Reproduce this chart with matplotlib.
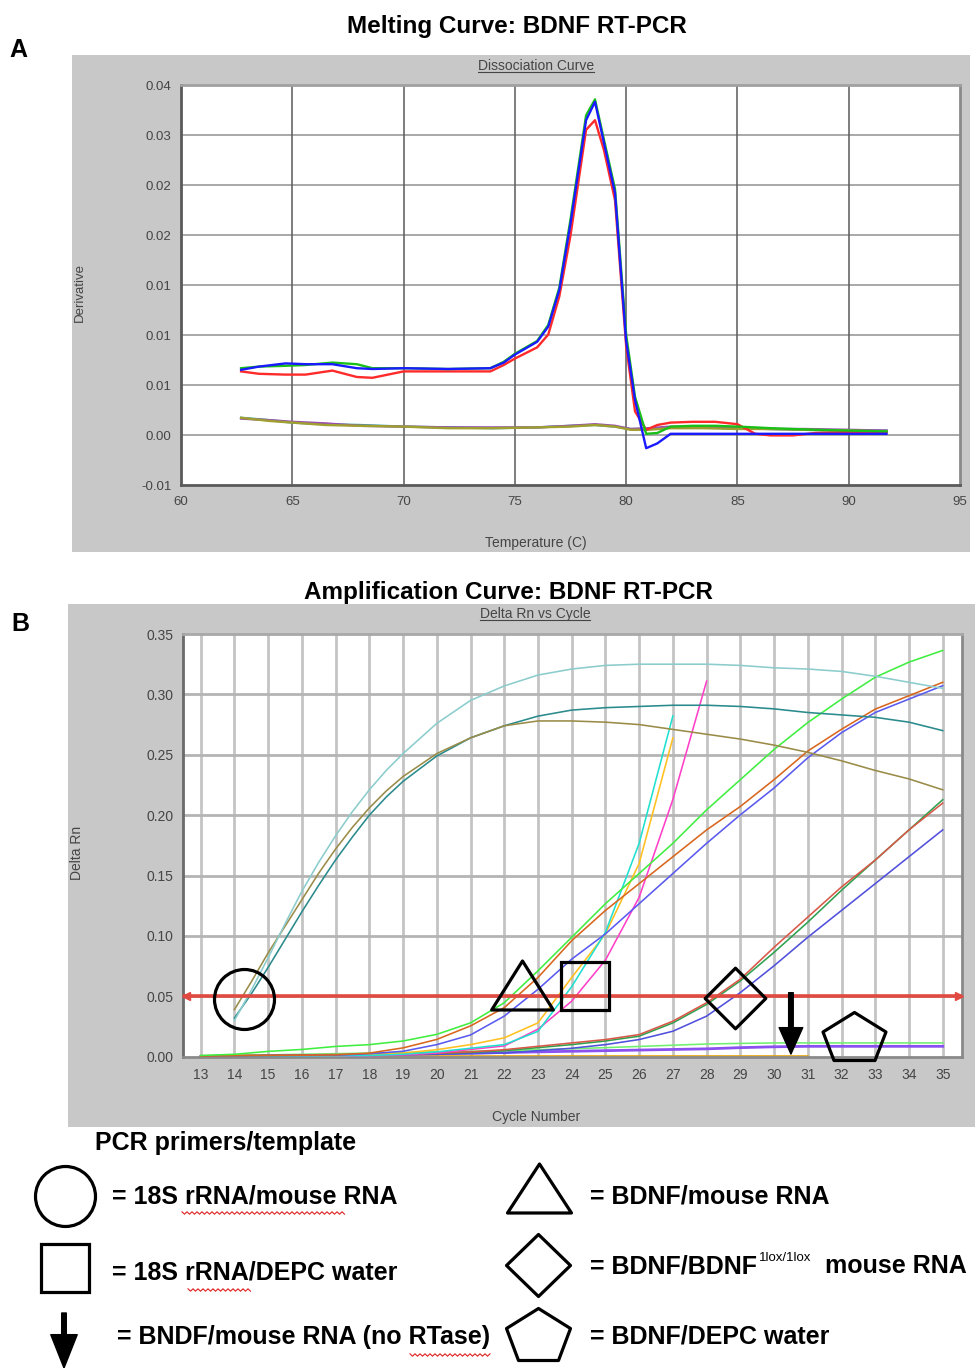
import numpy as np
import matplotlib
matplotlib.use('Agg')
import matplotlib.pyplot as plt
from matplotlib.path import Path
from matplotlib.patches import Rectangle

plt.rcParams['font.family'] = ['Liberation Sans', 'DejaVu Sans']

W, H = 977, 1368

# ---------------- Panel A : dissociation (melting) curve ----------------
temp_main = [62.7, 63.5, 64.7, 65.6, 66.8, 67.9, 68.6, 70.0, 72.0, 73.9, 74.5, 75.0,
             76.0, 76.5, 77.0, 77.5, 78.2, 78.6, 79.0, 79.5, 80.0, 80.4, 80.9, 81.4,
             82.0, 83.0, 84.0, 85.0, 85.8, 86.5, 87.5, 88.5, 90.0, 91.7]
deriv_blue = [0.0044, 0.0048, 0.0052, 0.0051, 0.0051, 0.0046, 0.0045, 0.0046, 0.0045,
              0.0046, 0.0053, 0.0063, 0.0079, 0.0098, 0.0144, 0.0227, 0.0356, 0.0379,
              0.0328, 0.0265, 0.0080, 0.0006, -0.0054, -0.0048, -0.0036, -0.0036,
              -0.0036, -0.0036, -0.0036, -0.0036, -0.0036, -0.0036, -0.0036, -0.0036]
deriv_green = [0.0046, 0.0048, 0.0049, 0.0050, 0.0053, 0.0051, 0.0046, 0.0046, 0.0045,
               0.0046, 0.0054, 0.0064, 0.0080, 0.0100, 0.0147, 0.0232, 0.0362, 0.0382,
               0.0332, 0.0270, 0.0088, 0.0010, -0.0036, -0.0035, -0.0027, -0.0026,
               -0.0026, -0.0027, -0.0028, -0.0029, -0.0030, -0.0031, -0.0032, -0.0033]
deriv_red = [0.0042, 0.0039, 0.0038, 0.0038, 0.0043, 0.0035, 0.0034, 0.0042, 0.0042,
             0.0042, 0.0050, 0.0058, 0.0072, 0.0088, 0.0136, 0.0212, 0.0344, 0.0356,
             0.0319, 0.0256, 0.0074, -0.0008, -0.0031, -0.0025, -0.0022, -0.0021,
             -0.0021, -0.0024, -0.0036, -0.0038, -0.0038, -0.0035, -0.0034, -0.0034]

temp_low = [62.7, 64.0, 65.0, 66.5, 68.0, 70.0, 72.0, 74.0, 76.0, 77.5, 78.6, 79.5,
            80.2, 81.0, 82.0, 83.5, 85.0, 86.5, 88.0, 90.0, 91.7]
deriv_teal = [-0.0016, -0.0019, -0.0022, -0.0024, -0.0025, -0.0027, -0.0028, -0.0029,
              -0.0028, -0.0026, -0.0025, -0.0027, -0.0030, -0.0030, -0.0028, -0.0028,
              -0.0029, -0.0030, -0.0031, -0.0032, -0.0032]
deriv_olive = [-0.0016, -0.0020, -0.0022, -0.0025, -0.0026, -0.0027, -0.0029, -0.0029,
               -0.0028, -0.0027, -0.0025, -0.0027, -0.0031, -0.0031, -0.0029, -0.0029,
               -0.0030, -0.0030, -0.0031, -0.0032, -0.0033]
deriv_purple = [-0.0017, -0.0019, -0.0021, -0.0023, -0.0026, -0.0027, -0.0028, -0.0028,
                -0.0028, -0.0026, -0.0024, -0.0026, -0.0030, -0.0029, -0.0027, -0.0028,
                -0.0029, -0.0030, -0.0030, -0.0031, -0.0032]

a_yticks = [-0.01, -0.00375, 0.0025, 0.00875, 0.015, 0.02125, 0.0275, 0.03375, 0.04]
a_ytick_labels = ['-0.01', '0.00', '0.01', '0.01', '0.01', '0.02', '0.02', '0.03', '0.04']
a_xticks = [60, 65, 70, 75, 80, 85, 90, 95]

# ---------------- Panel B : amplification curve ----------------
cycles = list(range(13, 36))
cyc_18s = [14, 14.5, 15, 15.5, 16, 16.5, 17, 17.5, 18, 18.5, 19, 20, 21, 22, 23, 24,
           25, 26, 27, 28, 29, 30, 31, 32, 33, 34, 35]
rn_18s_light = [0.030, 0.055, 0.082, 0.110, 0.137, 0.161, 0.183, 0.203, 0.221, 0.237,
                0.251, 0.276, 0.295, 0.307, 0.316, 0.321, 0.324, 0.325, 0.325, 0.325,
                0.324, 0.322, 0.321, 0.319, 0.315, 0.310, 0.305]
rn_18s_olive = [0.039, 0.062, 0.086, 0.108, 0.130, 0.152, 0.172, 0.190, 0.206, 0.220,
                0.232, 0.251, 0.264, 0.274, 0.278, 0.278, 0.277, 0.275, 0.271, 0.267,
                0.263, 0.258, 0.252, 0.245, 0.237, 0.230, 0.221]
rn_18s_dark = [0.032, 0.052, 0.074, 0.097, 0.120, 0.142, 0.163, 0.182, 0.200, 0.215,
               0.228, 0.249, 0.264, 0.274, 0.282, 0.287, 0.289, 0.290, 0.291, 0.291,
               0.290, 0.288, 0.285, 0.283, 0.281, 0.277, 0.270]

rn_bdnf_green = [0.001, 0.002, 0.0044, 0.006, 0.0085, 0.010, 0.013, 0.0185, 0.028, 0.0447,
                 0.0711, 0.0989, 0.1267, 0.1517, 0.1767, 0.2044, 0.2294, 0.2544, 0.2767,
                 0.2961, 0.3142, 0.3267, 0.3364]
rn_bdnf_orange = [0.0005, 0.0008, 0.001, 0.0012, 0.0015, 0.003, 0.0073, 0.0143, 0.0255,
                  0.0406, 0.0656, 0.0961, 0.1211, 0.1433, 0.1656, 0.1878, 0.2072, 0.2294,
                  0.2531, 0.2711, 0.2878, 0.2989, 0.310]
rn_bdnf_blue = [0.0005, 0.0007, 0.0009, 0.001, 0.0012, 0.0025, 0.0045, 0.010, 0.018,
                0.0336, 0.0558, 0.0808, 0.1017, 0.1267, 0.1517, 0.1767, 0.2003, 0.2225,
                0.2475, 0.2683, 0.285, 0.2961, 0.3072]

rn_water_yellow = [0.0005, 0.0005, 0.0006, 0.0008, 0.001, 0.0015, 0.003, 0.0058, 0.010,
                   0.0156, 0.028, 0.0656, 0.1017, 0.160, 0.264]
rn_water_cyan = [0.0003, 0.0004, 0.0005, 0.0006, 0.0008, 0.001, 0.002, 0.004, 0.007,
                 0.010, 0.021, 0.058, 0.103, 0.1767, 0.2822]
rn_water_magenta = [0.0003, 0.0003, 0.0004, 0.0005, 0.0006, 0.0008, 0.0015, 0.003, 0.006,
                    0.0089, 0.0228, 0.046, 0.080, 0.132, 0.213, 0.311]

rn_lox_red = [0.0008, 0.001, 0.0012, 0.0015, 0.0018, 0.002, 0.0025, 0.003, 0.004, 0.0058,
              0.0086, 0.0114, 0.0142, 0.0183, 0.0294, 0.0447, 0.0642, 0.0906, 0.1156,
              0.1406, 0.1628, 0.1878, 0.210]
rn_lox_green = [0.0007, 0.0009, 0.0011, 0.0013, 0.0016, 0.0018, 0.0022, 0.0028, 0.0036,
                0.005, 0.0075, 0.010, 0.013, 0.017, 0.028, 0.0433, 0.0628, 0.0864, 0.1114,
                0.1378, 0.1628, 0.1878, 0.2128]
rn_lox_blue = [0.0005, 0.0006, 0.0008, 0.001, 0.0012, 0.0014, 0.0017, 0.002, 0.0025, 0.003,
               0.005, 0.007, 0.010, 0.0142, 0.0211, 0.0336, 0.0531, 0.0753, 0.0989, 0.1211,
               0.1433, 0.1656, 0.1878]

rn_flat_green = [0.0005, 0.001, 0.0015, 0.002, 0.0025, 0.003, 0.0035, 0.004, 0.0045, 0.005,
                 0.0058, 0.0066, 0.0075, 0.0085, 0.0095, 0.0105, 0.011, 0.0114, 0.0114,
                 0.0114, 0.0114, 0.0114, 0.0114]
rn_flat_purple = [0.0, 0.0, 0.0005, 0.001, 0.0012, 0.0015, 0.002, 0.0025, 0.003, 0.0035,
                  0.004, 0.0045, 0.005, 0.0055, 0.006, 0.0065, 0.0075, 0.0082, 0.0086,
                  0.0086, 0.0086, 0.0086, 0.0086]
rn_flat_orange = [0.0008, 0.0008, 0.0008, 0.0008, 0.0008, 0.0008, 0.0008, 0.0008, 0.0008,
                  0.0008, 0.0008, 0.0008, 0.0008, 0.0008, 0.0008, 0.0008, 0.0008, 0.0008,
                  0.0008]

threshold = 0.05
b_yticks = [0.0, 0.05, 0.10, 0.15, 0.20, 0.25, 0.30, 0.35]

# annotation shapes placed in panel B (cycle, delta Rn)
circle_at = (14.29, 0.0476)
triangle_at = (22.52, 0.0595)
square_at = (24.39, 0.0585)
diamond_at = (28.84, 0.0486)
pentagon_at = (32.38, 0.017)
arrow_at = (30.5, 0.053, 0.0022)

legend_labels = ['= 18S rRNA/mouse RNA', '= 18S rRNA/DEPC water',
                 '= BNDF/mouse RNA (no RTase)', '= BDNF/mouse RNA',
                 '= BDNF/BDNF', '= BDNF/DEPC water']


def shape_marker(verts):
    v = np.array(verts, dtype=float)
    return Path(np.vstack([v, v[:1]]), closed=True)


def px_to_pt(px):
    return px * 72.0 / 100.0


TRI = shape_marker([(-30.85, -24.5), (30.85, -24.5), (0, 24.5)])
DIA = shape_marker([(0, 30.3), (30.3, 0), (0, -30.3), (-30.3, 0)])
PENT = shape_marker([(0, 24), (31.5, 4.5), (20.5, -24), (-20.5, -24), (-31.5, 4.5)])

fig = plt.figure(figsize=(W / 100, H / 100), dpi=100)

bg = fig.add_axes([0, 0, 1, 1])
bg.set_xlim(0, W)
bg.set_ylim(H, 0)
bg.axis('off')
bg.add_patch(Rectangle((72, 55), 898, 497, facecolor='#c8c8c8', edgecolor='none'))
bg.add_patch(Rectangle((68, 604), 907, 523, facecolor='#c8c8c8', edgecolor='none'))

# titles and labels
bg.text(517, 27, 'Melting Curve: BDNF RT-PCR', fontsize=17.5, fontweight='bold',
        ha='center', va='center')
bg.text(18, 50, 'A', fontsize=18, fontweight='bold', ha='center', va='center')
bg.text(508, 592, 'Amplification Curve: BDNF RT-PCR', fontsize=17.5, fontweight='bold',
        ha='center', va='center')
bg.text(20, 624, 'B', fontsize=18, fontweight='bold', ha='center', va='center')

gray_txt = '#454545'
sub_a = bg.text(536, 66, 'Dissociation Curve', fontsize=10, color=gray_txt,
                ha='center', va='center')
sub_b = bg.text(535, 614, 'Delta Rn vs Cycle', fontsize=10, color=gray_txt,
                ha='center', va='center')
bg.text(80, 292, 'Derivative', fontsize=9.5, color=gray_txt, rotation=90,
        ha='center', va='center')
bg.text(536, 543, 'Temperature (C)', fontsize=10, color=gray_txt, ha='center', va='center')
bg.text(77, 853, 'Delta Rn', fontsize=10, color=gray_txt, rotation=90,
        ha='center', va='center')
bg.text(536, 1117, 'Cycle Number', fontsize=10, color=gray_txt, ha='center', va='center')

# ---------------- Panel A axes ----------------
axA = fig.add_axes([181 / W, 1 - 485 / H, 779 / W, 400 / H])
axA.set_facecolor('white')
axA.set_xlim(60, 95)
axA.set_ylim(-0.01, 0.04)
for yv in a_yticks[1:-1]:
    axA.axhline(yv, color='#a8a8a8', lw=1.4, zorder=1)
for xv in a_xticks[1:-1]:
    axA.axvline(xv, color='#5a5a5a', lw=1.1, zorder=1)

axA.plot(temp_low, deriv_teal, color='#3aa0a8', lw=1.7, zorder=2)
axA.plot(temp_low, deriv_purple, color='#9a50b0', lw=1.7, zorder=2)
axA.plot(temp_low, deriv_olive, color='#a0a030', lw=1.7, zorder=2)
axA.plot(temp_main, deriv_red, color='#ff2a2a', lw=1.7, zorder=3)
axA.plot(temp_main, deriv_green, color='#18c018', lw=1.7, zorder=3)
axA.plot(temp_main, deriv_blue, color='#1a1aff', lw=1.7, zorder=4)

axA.set_xticks(a_xticks)
axA.set_yticks(a_yticks)
axA.set_yticklabels(a_ytick_labels)
axA.tick_params(axis='both', length=0, labelsize=9.5, labelcolor=gray_txt)
axA.tick_params(axis='y', pad=7)
axA.tick_params(axis='x', pad=8)
axA.spines['left'].set_color('#5a5a5a')
axA.spines['bottom'].set_color('#5a5a5a')
axA.spines['top'].set_color('#a0a0a0')
axA.spines['right'].set_color('#8a8a8a')
for s in axA.spines.values():
    s.set_linewidth(2)

# ---------------- Panel B axes ----------------
axB = fig.add_axes([183.3 / W, 1 - 1056.7 / H, 778.4 / W, 422.7 / H])
axB.set_facecolor('white')
axB.set_xlim(12.484, 35.563)
axB.set_ylim(0, 0.35)
for xv in cycles:
    axB.axvline(xv, color='#c4c4c4', lw=2, zorder=1)
for yv in b_yticks[1:-1]:
    axB.axhline(yv, color='#b4b4b4', lw=2, zorder=1)

lw_b = 1.15
axB.plot(cycles[:19], rn_flat_orange, color='#e8a000', lw=lw_b, zorder=2)
axB.plot(cycles, rn_flat_purple, color='#8a50f0', lw=2, zorder=2)
axB.plot(cycles, rn_flat_green, color='#70f070', lw=lw_b, zorder=2)
axB.plot(cycles, rn_lox_blue, color='#5050dd', lw=lw_b, zorder=3)
axB.plot(cycles, rn_lox_green, color='#30a050', lw=lw_b, zorder=3)
axB.plot(cycles, rn_lox_red, color='#d85848', lw=lw_b, zorder=3)
axB.plot(cycles[:16], rn_water_magenta, color='#ff40c8', lw=lw_b, zorder=3)
axB.plot(cycles[:15], rn_water_yellow, color='#ffc020', lw=lw_b, zorder=3)
axB.plot(cycles[:15], rn_water_cyan, color='#20e0d0', lw=lw_b, zorder=3)
axB.plot(cycles, rn_bdnf_blue, color='#5a5af0', lw=lw_b, zorder=3)
axB.plot(cycles, rn_bdnf_orange, color='#d8661e', lw=lw_b, zorder=3)
axB.plot(cycles, rn_bdnf_green, color='#40ee40', lw=lw_b, zorder=3)
axB.plot(cyc_18s, rn_18s_dark, color='#2a8a8c', lw=lw_b, zorder=3)
axB.plot(cyc_18s, rn_18s_olive, color='#9a8c48', lw=lw_b, zorder=3)
axB.plot(cyc_18s, rn_18s_light, color='#8ccccc', lw=lw_b, zorder=3)

# threshold line with arrow heads at both ends
x_lo, x_hi = axB.get_xlim()
axB.axhline(threshold, color='#e04a40', lw=2.6, zorder=4)
axB.plot([x_lo + 0.08], [threshold], marker='<', color='#e04a40', markersize=6, zorder=4,
         clip_on=False)
axB.plot([x_hi - 0.08], [threshold], marker='>', color='#e04a40', markersize=6, zorder=4,
         clip_on=False)

axB.set_xticks(cycles)
axB.set_yticks(b_yticks)
axB.set_yticklabels(['%.2f' % v for v in b_yticks])
axB.tick_params(axis='both', length=0, labelsize=10, labelcolor=gray_txt)
axB.tick_params(axis='y', pad=7)
axB.tick_params(axis='x', pad=8)
axB.spines['left'].set_color('#6a6a6a')
axB.spines['bottom'].set_color('#8a8a8a')
axB.spines['top'].set_color('#a8a8a8')
axB.spines['right'].set_color('#8a8a8a')
for s in axB.spines.values():
    s.set_linewidth(2)

# annotation shapes over the amplification curves
mk = dict(linestyle='none', markerfacecolor='none', markeredgecolor='black',
          markeredgewidth=2.3, zorder=6, clip_on=False)
axB.plot(*circle_at, marker='o', markersize=px_to_pt(60), **mk)
axB.plot(*triangle_at, marker=TRI, markersize=px_to_pt(61.7), **mk)
axB.plot(*square_at, marker='s', markersize=px_to_pt(47), **mk)
axB.plot(*diamond_at, marker=DIA, markersize=px_to_pt(60.6), **mk)
axB.plot(*pentagon_at, marker=PENT, markersize=px_to_pt(63), **mk)
axB.annotate('', xy=(arrow_at[0], arrow_at[2]), xytext=(arrow_at[0], arrow_at[1]),
             arrowprops=dict(facecolor='black', edgecolor='black', width=3.3,
                             headwidth=17, headlength=19, shrink=0), zorder=6)

# ---------------- key below the plots ----------------
key_fs = 18
bg.text(95, 1143, 'PCR primers/template', fontsize=key_fs, fontweight='bold',
        ha='left', va='center')
bg.plot(64.5, 1196, marker='o', markersize=px_to_pt(60), **mk)
bg.plot(64.5, 1268, marker='s', markersize=px_to_pt(48), **mk)
bg.annotate('', xy=(64, 1368), xytext=(64, 1313),
            arrowprops=dict(facecolor='black', edgecolor='black', width=3.3,
                            headwidth=19, headlength=24, shrink=0))
TRI_KEY = shape_marker([(-32, -24.5), (32, -24.5), (0, 24.5)])
PENT_KEY = shape_marker([(0, 26), (32, 6), (20, -26), (-20, -26), (-32, 6)])
DIA_KEY = shape_marker([(0, 31), (32, 0), (0, -31), (-32, 0)])
bg.plot(538.5, 1187.5, marker=TRI_KEY, markersize=px_to_pt(64), **mk)
bg.plot(538, 1265, marker=DIA_KEY, markersize=px_to_pt(64), **mk)
bg.plot(538, 1334, marker=PENT_KEY, markersize=px_to_pt(64), **mk)

bg.text(112, 1196, legend_labels[0], fontsize=key_fs, fontweight='bold', va='center')
bg.text(112, 1272, legend_labels[1], fontsize=key_fs, fontweight='bold', va='center')
bg.text(117, 1337, legend_labels[2], fontsize=key_fs, fontweight='bold', va='center')
bg.text(590, 1196, legend_labels[3], fontsize=key_fs, fontweight='bold', va='center')
t_lox = bg.text(590, 1266, legend_labels[4], fontsize=key_fs, fontweight='bold', va='center')
bg.text(590, 1337, legend_labels[5], fontsize=key_fs, fontweight='bold', va='center')

fig.canvas.draw()
renderer = fig.canvas.get_renderer()
inv = bg.transData.inverted()


def px_box(t):
    bb = t.get_window_extent(renderer)
    (x0, y0), (x1, y1) = inv.transform([(bb.x0, bb.y0), (bb.x1, bb.y1)])
    return x0, x1, min(y0, y1), max(y0, y1)


x0, x1, ytop, ybot = px_box(t_lox)
sup = bg.text(x1 + 2, 1258, '1lox/1lox', fontsize=9.5, va='center')
fig.canvas.draw()
sx0, sx1, _, _ = px_box(sup)
bg.text(sx1 + 14, 1266, 'mouse RNA', fontsize=key_fs, fontweight='bold', va='center')

# underline the two chart sub-titles
for t in (sub_a, sub_b):
    x0, x1, ytop, ybot = px_box(t)
    bg.plot([x0, x1], [ybot - 1, ybot - 1], color=gray_txt, lw=0.8)

# spell-check squiggles
for sx0, sx1, sy in [(182, 345, 1213), (188, 252, 1290), (410, 490, 1355)]:
    xs = np.arange(sx0, sx1 + 1, 2.5)
    ys = sy + np.where(np.arange(len(xs)) % 2 == 0, -1.2, 1.2)
    bg.plot(xs, ys, color='#e02020', lw=0.8)

fig.savefig('out.png', dpi=100)
